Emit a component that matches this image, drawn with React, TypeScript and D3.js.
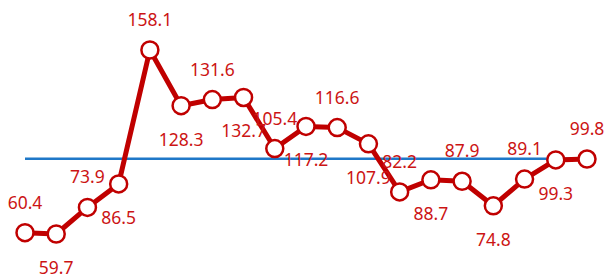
import React, { useRef, useEffect } from 'react';
import * as d3 from 'd3';

// one value per period, index where 100 = average
const periods = d3.range(1, 20).map((d) => `P${d}`);
const values = [
  60.4, 59.7, 73.9, 86.5, 158.1, 128.3, 131.6, 132.7, 105.4, 117.2,
  116.6, 107.9, 82.2, 88.7, 87.9, 74.8, 89.1, 99.3, 99.8,
];
const baseline = [100];

const App = () => {
  const chart = useRef<SVGSVGElement | null>(null);

  useEffect(() => {
    const svg = d3.select(chart.current);
    svg.selectAll('*').remove();

    const width = 605;
    const height = 275;

    const x = d3.scalePoint().domain(periods).range([25, 587]);
    const y = d3.scaleLinear().domain([59.7, 158.1]).range([234, 50]);

    const data = periods.map((p, i) => ({ p, v: values[i], i }));

    // reference line at 100
    svg
      .selectAll('line.base')
      .data(baseline)
      .enter()
      .append('line')
      .attr('x1', x(periods[0]) as number)
      .attr('x2', x(periods[periods.length - 1]) as number)
      .attr('y1', (d) => y(d))
      .attr('y2', (d) => y(d))
      .attr('stroke', '#1f78c8')
      .attr('stroke-width', 2.5);

    const line = d3
      .line<{ p: string; v: number }>()
      .x((d) => x(d.p) as number)
      .y((d) => y(d.v));

    svg
      .append('path')
      .datum(data)
      .attr('d', line)
      .attr('fill', 'none')
      .attr('stroke', '#c00000')
      .attr('stroke-width', 5)
      .attr('stroke-linejoin', 'round');

    svg
      .selectAll('circle')
      .data(data)
      .enter()
      .append('circle')
      .attr('cx', (d) => x(d.p) as number)
      .attr('cy', (d) => y(d.v))
      .attr('r', 8.5)
      .attr('fill', '#fff')
      .attr('stroke', '#c00000')
      .attr('stroke-width', 2.5);

    // labels alternate above / below the points
    svg
      .selectAll('text')
      .data(data)
      .enter()
      .append('text')
      .attr('x', (d) => x(d.p) as number)
      .attr('y', (d) => y(d.v) + (d.i % 2 === 0 ? -24 : 40))
      .attr('text-anchor', 'middle')
      .attr('font-family', '"Noto Sans", "Open Sans", sans-serif')
      .attr('font-size', 17.5)
      .attr('fill', '#cc1414')
      .text((d) => d.v.toFixed(1));

    svg.attr('width', width).attr('height', height);
  }, []);

  return (
    <svg
      ref={chart}
      style={{ position: 'absolute', left: 0, top: 0, background: '#fff' }}
    />
  );
};

export default App;
